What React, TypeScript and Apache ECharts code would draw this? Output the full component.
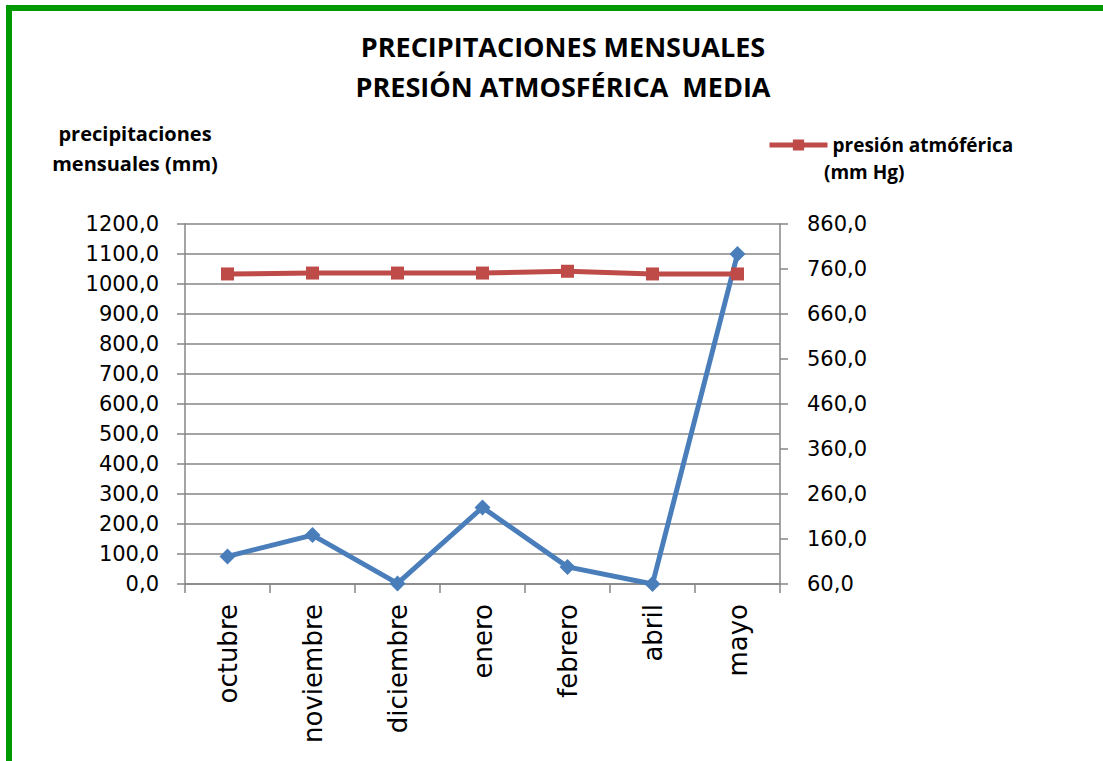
import React, { useEffect, useRef } from "react";
import * as echarts from "echarts";

const months = ["octubre", "noviembre", "diciembre", "enero", "febrero", "abril", "mayo"];
const precipitation = [92, 163, 2, 255, 57, 0, 1100];
const pressure = [749, 751, 751, 751, 755, 749, 749];
const leftTicks = { min: 0, max: 1200, interval: 100 };
const rightTicks = { min: 60, max: 860, interval: 100 };

const chartTitle = "PRECIPITACIONES MENSUALES\nPRESIÓN ATMOSFÉRICA  MEDIA";
const leftAxisTitle = "precipitaciones\nmensuales (mm)";
const pressureName = "presión atmóférica";
const pressureUnit = "(mm Hg)";

const BLUE = "#4A7EBB";
const RED = "#BE4B48";
const GRID = "#868686";
const GREEN = "#009900";
const BOLD_FONT = "'Open Sans', sans-serif";
const TEXT_FONT = "'DejaVu Sans', sans-serif";

const fmt = (v: number) => v.toFixed(1).replace(".", ",");

export default function App() {
  const ref = useRef<HTMLDivElement>(null);
  useEffect(() => {
    if (!ref.current) return;
    const chart = echarts.init(ref.current, null, { renderer: "svg" });
    chart.setOption({
      animation: false,
      backgroundColor: "#ffffff",
      title: [
        {
          text: chartTitle,
          left: 558,
          top: 21,
          textAlign: "center",
          textStyle: { fontFamily: BOLD_FONT, fontWeight: "bold", fontSize: 27, lineHeight: 40, color: "#000" },
        },
        {
          text: leftAxisTitle,
          left: 130,
          top: 113,
          textAlign: "center",
          textStyle: { fontFamily: BOLD_FONT, fontWeight: "bold", fontSize: 20, lineHeight: 30, color: "#000" },
        },
      ],
      legend: {
        data: [pressureName],
        left: 762,
        top: 129,
        itemWidth: 58,
        itemHeight: 14,
        itemGap: 4,
        lineStyle: { width: 5, color: RED },
        textStyle: { fontFamily: BOLD_FONT, fontWeight: "bold", fontSize: 19, color: "#000", lineHeight: 22 },
      },
      graphic: [
        { type: "rect", shape: { x: 6, y: 5, width: 6, height: 756 }, style: { fill: GREEN } },
        { type: "rect", shape: { x: 6, y: 5, width: 1097, height: 6 }, style: { fill: GREEN } },
        {
          type: "text",
          left: 824,
          top: 162,
          style: { text: pressureUnit, fontFamily: BOLD_FONT, fontWeight: "bold", fontSize: 19, fill: "#000" },
        },
      ],
      grid: { left: 185, right: 323, top: 224, bottom: 177, containLabel: false },
      xAxis: {
        type: "category",
        data: months,
        boundaryGap: true,
        axisLine: { lineStyle: { color: GRID, width: 1.5 } },
        axisTick: { show: true, length: 9, inside: false, lineStyle: { color: GRID, width: 1.5 } },
        axisLabel: { rotate: 90, fontFamily: TEXT_FONT, fontSize: 26, color: "#000", margin: 20 },
        splitLine: { show: false },
      },
      yAxis: [
        {
          type: "value",
          min: leftTicks.min,
          max: leftTicks.max,
          interval: leftTicks.interval,
          axisLine: { show: true, lineStyle: { color: GRID, width: 1.5 } },
          axisTick: { show: true, length: 8, lineStyle: { color: GRID, width: 1.5 } },
          axisLabel: { formatter: fmt, fontFamily: TEXT_FONT, fontSize: 21, color: "#000", margin: 26 },
          splitLine: { show: true, lineStyle: { color: GRID, width: 1.5 } },
        },
        {
          type: "value",
          position: "right",
          min: rightTicks.min,
          max: rightTicks.max,
          interval: rightTicks.interval,
          axisLine: { show: true, lineStyle: { color: GRID, width: 1.5 } },
          axisTick: { show: true, length: 8, lineStyle: { color: GRID, width: 1.5 } },
          axisLabel: { formatter: fmt, fontFamily: TEXT_FONT, fontSize: 21, color: "#000", margin: 27 },
          splitLine: { show: false },
        },
      ],
      series: [
        {
          name: "precipitaciones mensuales (mm)",
          type: "line",
          yAxisIndex: 0,
          data: precipitation,
          symbol: "diamond",
          symbolSize: 16,
          lineStyle: { color: BLUE, width: 5 },
          itemStyle: { color: BLUE },
        },
        {
          name: pressureName,
          type: "line",
          yAxisIndex: 1,
          data: pressure,
          symbol: "rect",
          symbolSize: 13,
          lineStyle: { color: RED, width: 5 },
          itemStyle: { color: RED },
        },
      ],
    });
    return () => chart.dispose();
  }, []);
  return (
    <div
      ref={ref}
      style={{ position: "absolute", left: 0, top: 0, width: 1103, height: 761 }}
    />
  );
}
